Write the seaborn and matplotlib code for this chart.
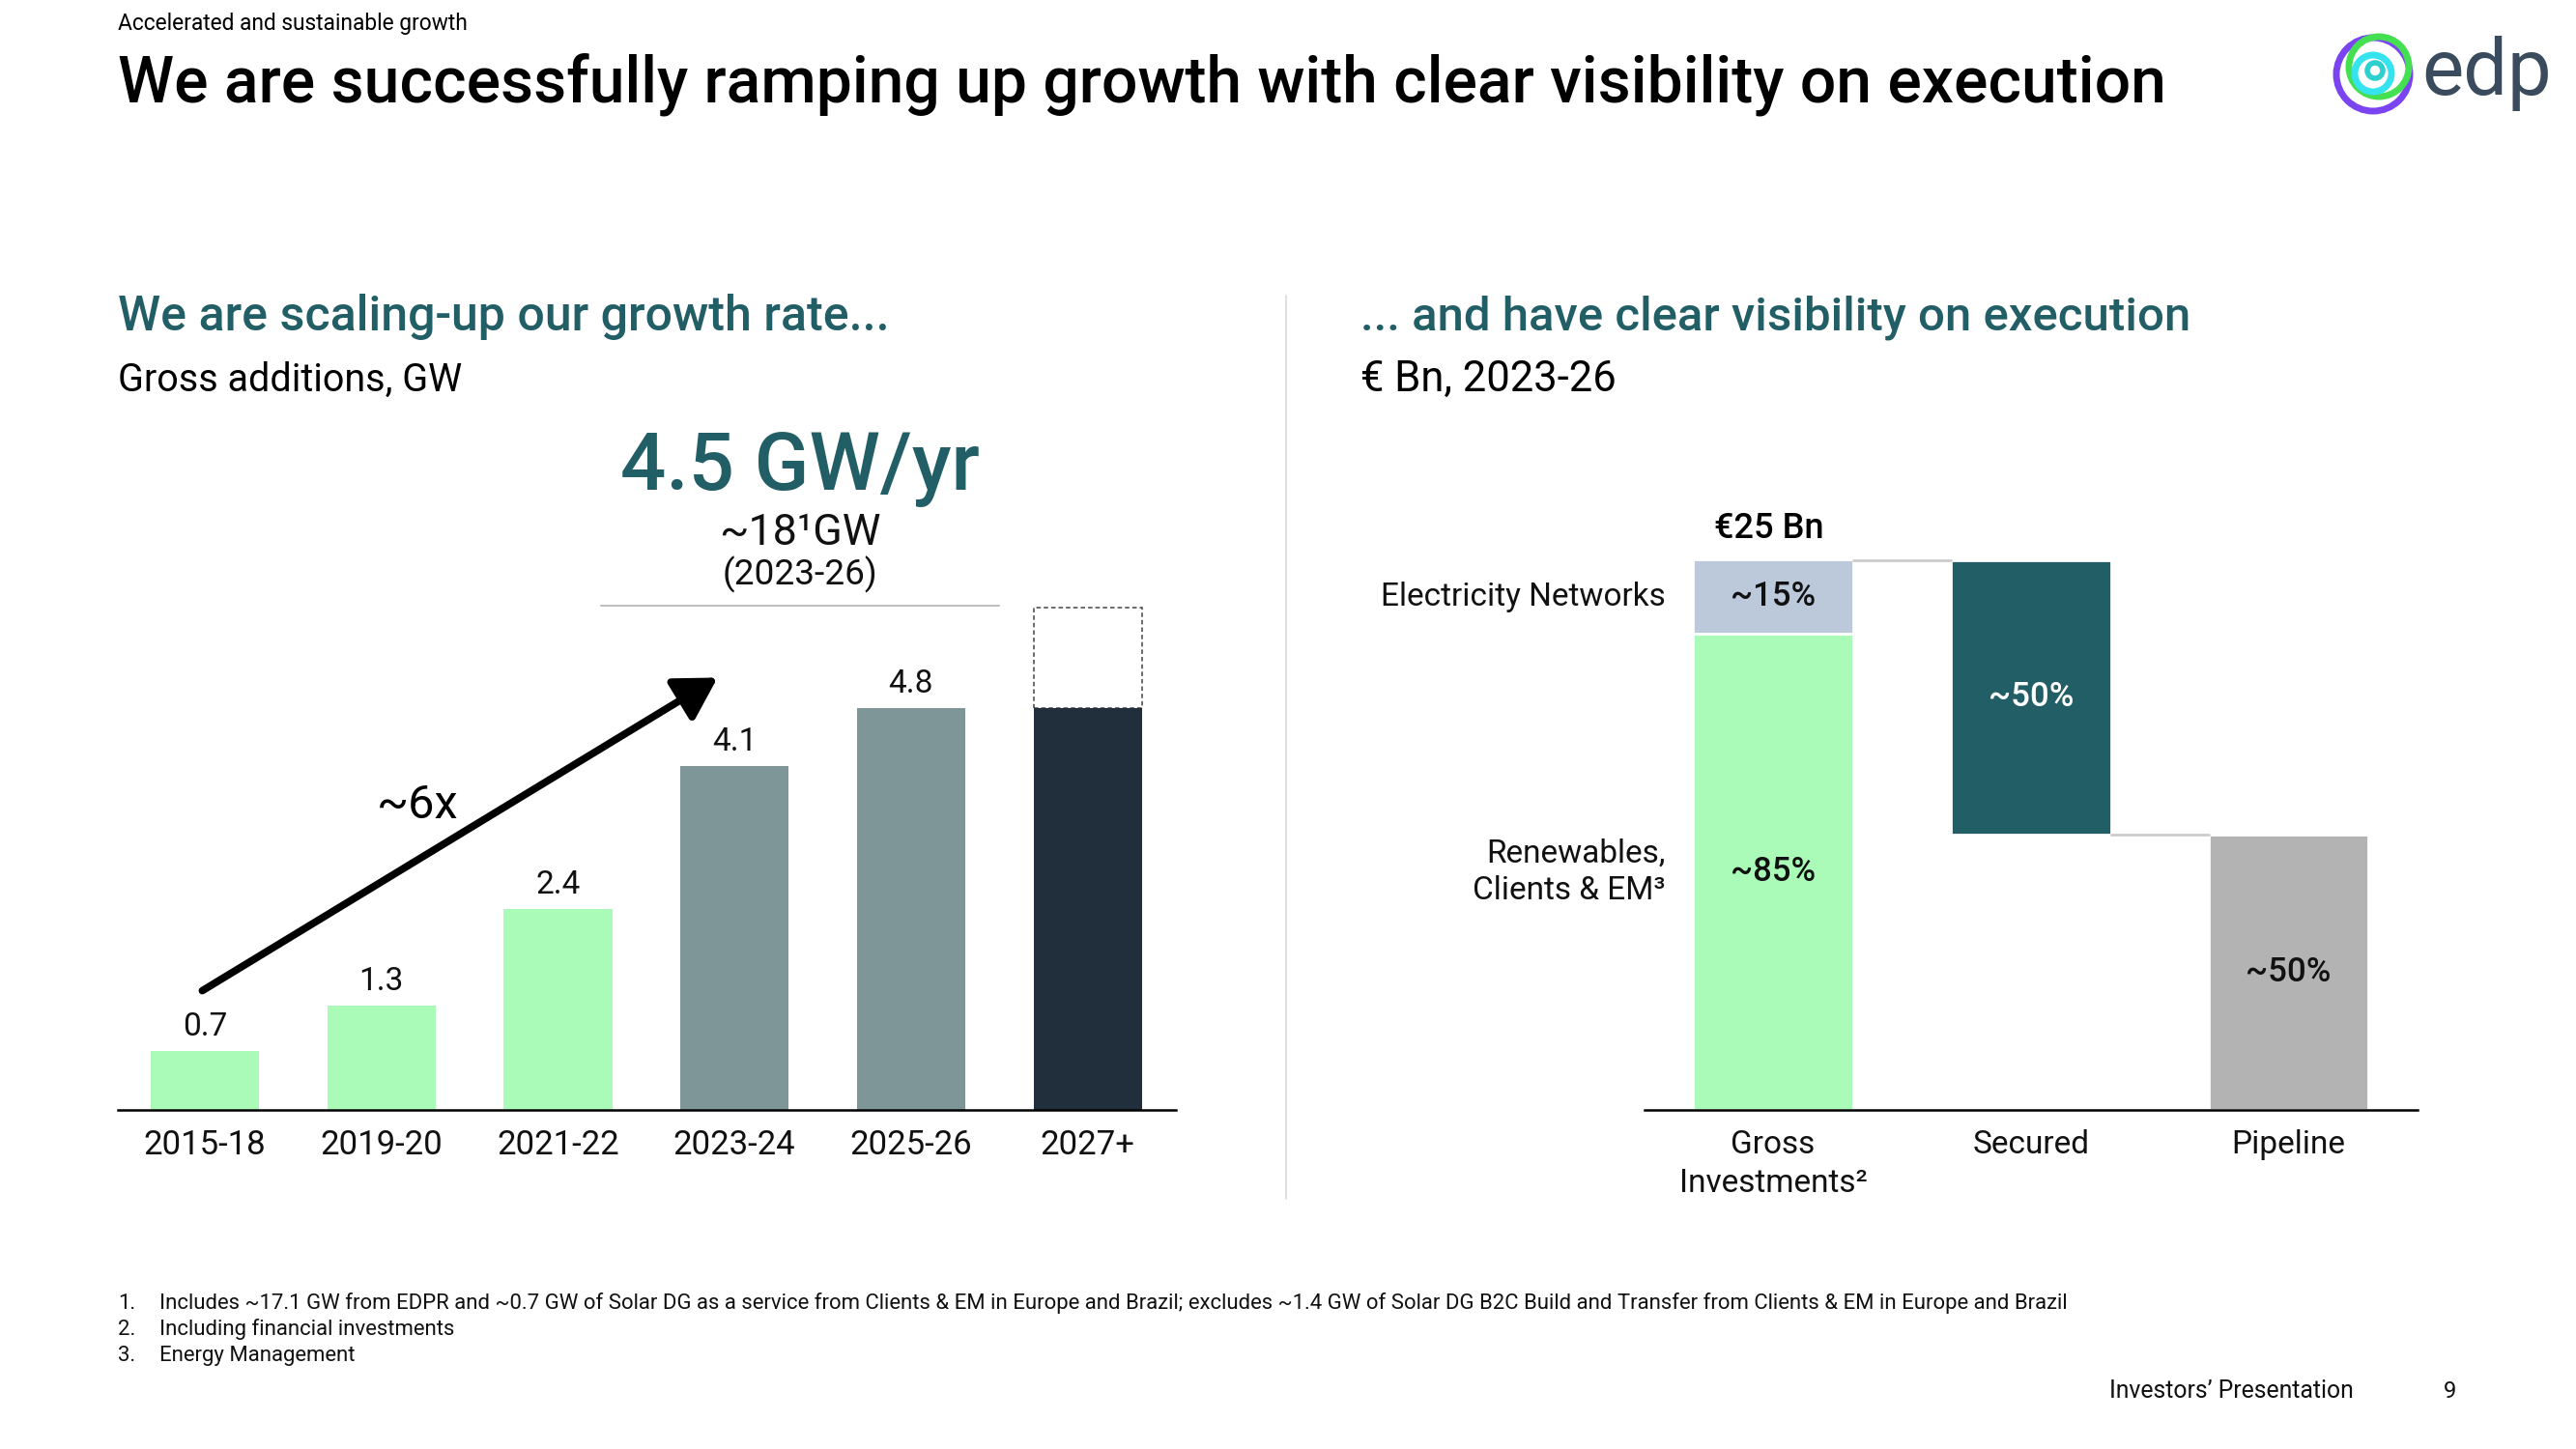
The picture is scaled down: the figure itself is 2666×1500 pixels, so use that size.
import numpy as np
import pandas as pd
import matplotlib
matplotlib.use("Agg")
import matplotlib.pyplot as plt
from matplotlib import transforms
from matplotlib.patches import Circle, FancyArrowPatch
from matplotlib.lines import Line2D
import seaborn as sns

# ---------------- data ----------------
periods = ["2015-18", "2019-20", "2021-22", "2023-24", "2025-26", "2027+"]
gross_additions_gw = [0.7, 1.25, 2.4, 4.1, 4.8, 4.8]
addition_labels = ["0.7", "1.3", "2.4", "4.1", "4.8", ""]
outlook_2027_upper_gw = 6.0

stages = ["Gross\nInvestments²", "Secured", "Pipeline"]
gross_split_names = ["Renewables,\nClients & EM³", "Electricity Networks"]
gross_split_pct = [86.5, 13.5]
gross_split_labels = ["~85%", "~15%"]
secured_pct = 50
pipeline_pct = 50
secured_label = "~50%"
pipeline_label = "~50%"
gross_total_label = "€25 Bn"

footnotes = [
    "Includes ~17.1 GW from EDPR and ~0.7 GW of Solar DG as a service from Clients & EM in Europe and Brazil; excludes ~1.4 GW of Solar DG B2C Build and Transfer from Clients & EM in Europe and Brazil",
    "Including financial investments",
    "Energy Management",
]

# ---------------- style ----------------
sns.set_style("white")
plt.rcParams["font.family"] = ["Roboto", "DejaVu Sans"]

TEAL = "#225E66"
GREEN = "#A9FBB7"
GREYTEAL = "#7E9698"
DARK = "#212F3C"
BLUEGREY = "#BCC9DB"
PIPEGREY = "#B3B3B3"

W, H = 2666, 1500
fig = plt.figure(figsize=(26.66, 15), dpi=100)
fig.patch.set_facecolor("white")
renderer = fig.canvas.get_renderer()


def fx(px):
    return px / W


def fy(py):
    return 1 - py / H


def put(x, y, s, size=20, width=None, ha="left", va="baseline", **kw):
    t = fig.text(fx(x), fy(y), s, ha=ha, va=va, fontsize=size, **kw)
    if width:
        w = t.get_window_extent(renderer=renderer).width
        t.set_fontsize(t.get_fontsize() * width / w)
    return t


# ---------------- header ----------------
put(122, 31, "Accelerated and sustainable growth", width=362, color="black")
put(122, 106, "We are successfully ramping up growth with clear visibility on execution",
    width=2122, color="black", fontweight="medium")

# logo
lax = fig.add_axes([fx(2400), fy(130), 260 / W, 110 / H])
lax.set_xlim(2400, 2660)
lax.set_ylim(130, 20)
lax.axis("off")
lax.add_patch(Circle((2456, 77), 38, fill=False, lw=5, ec="#7A45F0"))
lax.add_patch(Circle((2462, 69), 31, fill=False, lw=5, ec="#45E052"))
lax.add_patch(Circle((2456, 76), 19, fill=False, lw=5, ec="#34E3EE"))
lax.add_patch(Circle((2458, 73), 8, fill=False, lw=4, ec="#2ECFCF"))
put(2506, 98, "edp", width=134, color="#3A4B5D", fontweight="normal")

# section titles
put(122, 342, "We are scaling-up our growth rate...", width=801, color=TEAL, fontweight="medium")
put(122, 405, "Gross additions, GW", width=355, color="black")
put(1408, 342, "... and have clear visibility on execution", width=860, color=TEAL, fontweight="medium")
put(1408, 405, "€ Bn, 2023-26", width=264, color="black")

# separator
fig.add_artist(Line2D([fx(1331), fx(1331)], [fy(306), fy(1241)], color="#D9D9D9", lw=1.2))

# ---------------- left chart ----------------
axL = fig.add_axes([fx(122.4), fy(1149), (1217 - 122.4) / W, (1149 - 455) / H])
dfL = pd.DataFrame({"period": periods, "gw": gross_additions_gw})
palL = dict(zip(periods, [GREEN, GREEN, GREEN, GREYTEAL, GREYTEAL, DARK]))

# dashed outlook box for 2027+
sns.barplot(x=[periods[-1]], y=[outlook_2027_upper_gw - gross_additions_gw[-1]],
            bottom=[gross_additions_gw[-1]], order=periods, fill=False, color="#444444",
            linestyle=(0, (3, 2)), linewidth=1.1, width=0.614, errorbar=None, ax=axL)
sns.barplot(data=dfL, x="period", y="gw", hue="period", palette=palL, order=periods,
            hue_order=periods, width=0.614, saturation=1, errorbar=None, legend=False,
            linewidth=0, ax=axL)

for i, (v, lab) in enumerate(zip(gross_additions_gw, addition_labels)):
    if lab:
        axL.annotate(lab, (i, v), xytext=(0, 18), textcoords="offset points",
                     ha="center", va="center", fontsize=24, color="#111111")

axL.set_xlim(-0.49, 5.5)
axL.set_ylim(0, 8.0)
axL.set_xlabel("")
axL.set_ylabel("")
axL.set_yticks([])
for s in ["top", "right", "left"]:
    axL.spines[s].set_visible(False)
axL.spines["bottom"].set_color("black")
axL.spines["bottom"].set_linewidth(1.8)
axL.tick_params(axis="x", length=0, pad=14.5, labelsize=25, labelcolor="#111111")
axL.patch.set_alpha(0)

# growth arrow and annotations
fig.add_artist(FancyArrowPatch((fx(207), fy(1027)), (fx(745), fy(700)),
                               transform=fig.transFigure,
                               arrowstyle="-|>,head_length=0.65,head_width=0.38",
                               mutation_scale=40, lw=5.5, color="black"))
put(432, 847, "~6x", size=35, ha="center", color="black")
put(828, 507, "4.5 GW/yr", width=372, ha="center", color=TEAL, fontweight="medium")
put(828, 564, "~18¹GW", width=167, ha="center", color="#111111")
put(828, 605, "(2023-26)", width=160, ha="center", color="#111111")
fig.add_artist(Line2D([fx(622), fx(1034)], [fy(627), fy(627)], color="#BFBFBF", lw=1.5))

# ---------------- right chart ----------------
axR = fig.add_axes([fx(1701.7), fy(1149), (2502 - 1701.7) / W, (1149 - 455) / H])
total = sum(gross_split_pct)
seg = pd.DataFrame({
    "stage": [stages[0], stages[0], stages[1], stages[2]],
    "pct": gross_split_pct + [secured_pct, pipeline_pct],
    "bottom": [0, gross_split_pct[0], total - secured_pct, total - secured_pct - pipeline_pct],
    "color": [GREEN, BLUEGREY, TEAL, PIPEGREY],
    "label": gross_split_labels + [secured_label, pipeline_label],
    "tcolor": ["#111111", "#111111", "white", "#111111"],
})
BW = 0.62
for _, r in seg.iterrows():
    sns.barplot(x=[r["stage"]], y=[r["pct"]], bottom=[r["bottom"]], order=stages,
                color=r["color"], saturation=1, width=BW, errorbar=None,
                edgecolor="white", linewidth=2, ax=axR)
    xi = stages.index(r["stage"])
    axR.text(xi, r["bottom"] + r["pct"] / 2, r["label"], ha="center", va="center",
             fontsize=25, fontweight="medium", color=r["tcolor"])

# connectors
axR.plot([0 + BW / 2, 1 - BW / 2], [total, total], color="#CCCCCC", lw=2)
axR.plot([1 + BW / 2, 2 - BW / 2], [total - secured_pct] * 2, color="#CCCCCC", lw=2)

axR.annotate(gross_total_label, (0, total), xytext=(-3, 23), textcoords="offset points",
             ha="center", va="center", fontsize=26, fontweight="medium", color="black")

blend = transforms.blended_transform_factory(fig.transFigure, axR.transData)
axR.text(fx(1724), gross_split_pct[0] + gross_split_pct[1] / 2, gross_split_names[1],
         transform=blend, ha="right", va="center", fontsize=24, color="#111111")
axR.text(fx(1724), gross_split_pct[0] / 2, gross_split_names[0], transform=blend,
         ha="right", va="center", fontsize=24, color="#111111", multialignment="right",
         linespacing=1.25)

axR.set_xlim(-0.5, 2.5)
axR.set_ylim(0, (1149 - 455) / 5.695)
axR.set_xlabel("")
axR.set_ylabel("")
axR.set_yticks([])
for s in ["top", "right", "left"]:
    axR.spines[s].set_visible(False)
axR.spines["bottom"].set_color("black")
axR.spines["bottom"].set_linewidth(1.8)
axR.tick_params(axis="x", length=0, pad=14.5, labelsize=24, labelcolor="#111111")
for lab in axR.get_xticklabels():
    lab.set_linespacing(1.3)
axR.patch.set_alpha(0)

# ---------------- footnotes & footer ----------------
fn_y = [1355, 1382, 1409]
first = put(165, fn_y[0], footnotes[0], width=1977, color="#111111")
fsize = first.get_fontsize()
for i, (yy, txt) in enumerate(zip(fn_y, footnotes)):
    put(122, yy, f"{i + 1}.", size=fsize, color="#111111")
    if i > 0:
        put(165, yy, txt, size=fsize, color="#111111")

put(2183, 1447, "Investors’ Presentation", width=252, color="#111111")
put(2536, 1447, "9", size=17, ha="center", color="#111111")

fig.savefig("out.png", dpi=100)
